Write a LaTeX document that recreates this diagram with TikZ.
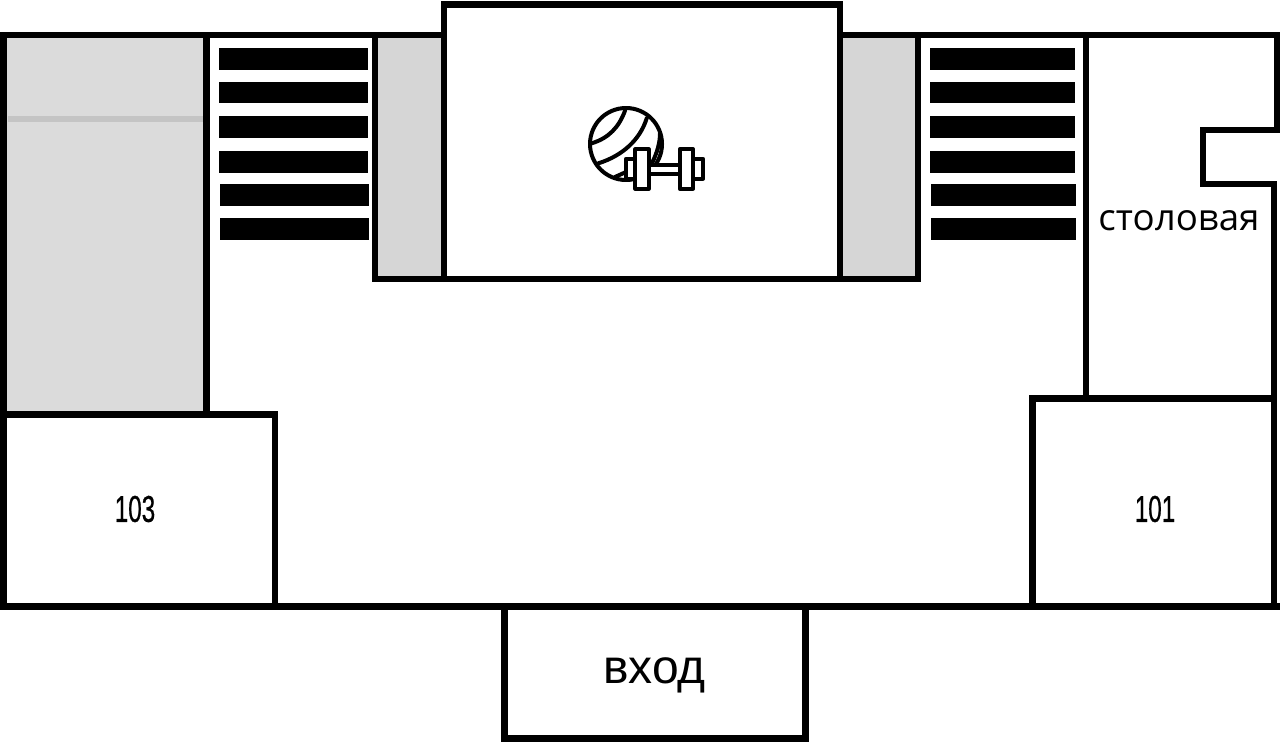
\documentclass[tikz,border=0pt]{standalone}
\usepackage{fontspec}
\setmainfont{Open Sans}
\newfontfamily\arialfont{Liberation Sans}
\newfontfamily\numfont[FakeBold=0.8]{Liberation Sans}
\tikzset{
  x=0.75pt,y=-0.75pt,
  wall/.style={line width=5.1pt,line join=miter,line cap=butt,draw=black},
  tread/.style={fill=black,draw=none},
  icon/.style={line width=3pt,draw=black,line join=round,line cap=round},
  roomnum/.style={inner sep=0pt,text=black},
}
\newcommand{\roomnumber}[1]{\scalebox{0.65}[1]{\fontsize{28pt}{28pt}\numfont #1}}
\begin{document}
\begin{tikzpicture}
\useasboundingbox (0,0) rectangle (1280,742);
\fill[white] (0,0) rectangle (1280,742);
% shaded areas
\fill[fill=black!14] (3.5,35) rectangle (206.5,414.5);
\fill[fill=black!23] (8,116) rectangle (203,122);
\fill[fill=black!16] (375,35) rectangle (444,279);
\fill[fill=black!16] (840,35) rectangle (918,279);
% left stairs
\foreach \a/\b/\l/\r in {48/70/219/368,82/103.3/219/368,116/137.5/219/368,151/173/219/368,184/205.7/220/369,218/239.7/220/369}
  \fill[tread] (\l,\a) rectangle (\r,\b);
% right stairs
\foreach \a/\b/\l/\r in {48/70/930/1075,82/103.3/930/1075,116/137.5/930/1075,151/173/930/1075,184/205.7/931/1076,218/239.7/931/1076}
  \fill[tread] (\l,\a) rectangle (\r,\b);
% walls
\draw[wall] (3.5,606.5) -- (3.5,35) -- (444,35);
\draw[wall] (840,35) -- (1277,35) -- (1277,130) -- (1203,130) -- (1203,184) -- (1274,184) -- (1274,606.5);
\draw[wall] (1277,130) -- (1280,130);
\draw[wall] (444,279) rectangle (840,4.5);
\draw[wall] (375,35) -- (375,279) -- (918,279) -- (918,35);
\draw[wall] (206.5,35) -- (206.5,414.5);
\draw[wall] (1086,35) -- (1086,398.5);
\draw[wall] (3.5,414.5) -- (275,414.5) -- (275,606.5);
\draw[wall] (1274,398.5) -- (1032.5,398.5) -- (1032.5,606.5);
\draw[wall] (0,606.5) -- (1280,606.5);
\draw[wall] (504.5,606.5) -- (504.5,738.5) -- (805.5,738.5) -- (805.5,606.5);
% ball
\draw[icon] (626,144) circle[radius=36];
\draw[icon] (625,110.7) .. controls (619,127) and (609,138) .. (591.7,143.3);
\draw[icon] (646.7,118.3) .. controls (640,140) and (622,156) .. (598.3,163.3);
\draw[icon] (660,133) .. controls (660,143) and (657,153) .. (652,163);
\draw[icon] (615,177) -- (626,172);
% dumbbell
\draw[icon,fill=white] (626,158.7) rectangle (635,178.7);
\draw[icon,fill=white] (693,158.7) rectangle (703,178.7);
\draw[icon,fill=white] (649,164.7) rectangle (680,174);
\draw[icon,fill=white] (635.3,149.3) rectangle (648.7,188.7);
\draw[icon,fill=white] (679.7,149.3) rectangle (693,188.7);
% labels
\node[roomnum] (r103) at (135,509) {\roomnumber{103}};
\node[roomnum] (r101) at (1155,509) {\roomnumber{101}};
\node[inner sep=0pt,anchor=base] (dining) at (1179,230) {\fontsize{27.5pt}{27.5pt}\selectfont столовая};
\node[inner sep=0pt,anchor=base] (entrance) at (654.5,683.5) {\fontsize{36pt}{36pt}\arialfont вход};
\end{tikzpicture}
\end{document}
